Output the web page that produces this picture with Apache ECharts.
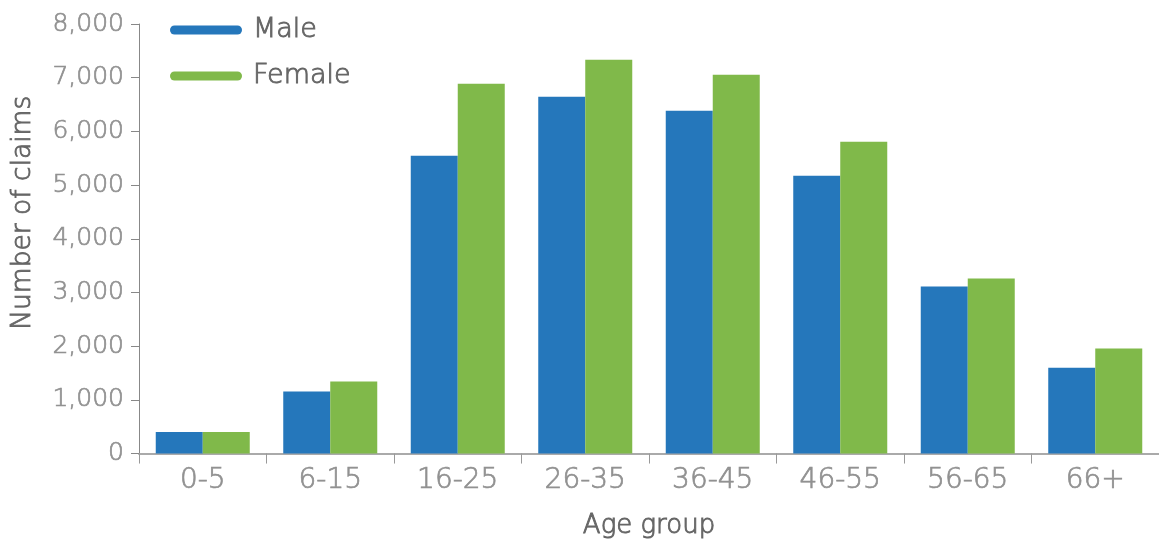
<!DOCTYPE html>
<html>
<head>
<meta charset="utf-8">
<script src="https://cdn.jsdelivr.net/npm/echarts@6/dist/echarts.min.js"></script>
<style>
html,body{margin:0;padding:0;background:#fff;}
#chart{width:1159px;height:545px;}
</style>
</head>
<body>
<div id="chart"></div>
<script>
const categories = ['0-5','6-15','16-25','26-35','36-45','46-55','56-65','66+'];
const male   = [400, 1155, 5545, 6645, 6385, 5175, 3110, 1600];
const female = [400, 1340, 6885, 7335, 7055, 5805, 3260, 1955];
const yTicks = [0, 1000, 2000, 3000, 4000, 5000, 6000, 7000, 8000];

const FONT = '"DejaVu Sans", Roboto, sans-serif';
const TICK = '#919191';
const NAME = '#666666';
const chart = echarts.init(document.getElementById('chart'), null, {renderer: 'canvas'});
chart.setOption({
  animation: false,
  textStyle: {fontFamily: FONT},
  grid: {left: 139, width: 1024, top: 24, bottom: 91, containLabel: false},
  legend: {
    orient: 'vertical',
    left: 170,
    top: 14,
    padding: 0,
    itemWidth: 72,
    itemHeight: 9,
    itemGap: 14,
    icon: 'path://M0,5 A5,5 0 0 1 5,0 H75 A5,5 0 0 1 75,10 H5 A5,5 0 0 1 0,5 Z',
    textStyle: {fontFamily: FONT, fontWeight: 200, fontSize: 27, color: NAME,
      textBorderColor: NAME, textBorderWidth: 0.9, lineHeight: 30, padding: [2,0,0,6]},
    data: ['Male', 'Female']
  },
  xAxis: {
    type: 'category',
    data: categories,
    name: 'Age group',
    nameLocation: 'middle',
    nameGap: 60,
    nameTextStyle: {fontFamily: FONT, fontWeight: 200, fontSize: 26, color: NAME,
      textBorderColor: NAME, textBorderWidth: 0.9},
    axisLine: {lineStyle: {color: '#aaa', width: 2}},
    axisTick: {show: true, length: 10, lineStyle: {color: '#999', width: 1}},
    axisLabel: {fontFamily: FONT, fontWeight: 200, fontSize: 28, color: TICK,
      textBorderColor: TICK, textBorderWidth: 0.7, margin: 13}
  },
  yAxis: {
    type: 'value',
    min: yTicks[0],
    max: yTicks[yTicks.length - 1],
    interval: 1000,
    name: 'Number of claims',
    nameLocation: 'middle',
    nameGap: 102,
    nameRotate: 90,
    nameTextStyle: {fontFamily: FONT, fontWeight: 200, fontSize: 26.5, color: NAME,
      textBorderColor: NAME, textBorderWidth: 0.9, padding: [0, 0, 0, 52]},
    axisLine: {show: true, lineStyle: {color: '#888', width: 1}},
    axisTick: {show: true, length: 8, lineStyle: {color: '#888'}},
    splitLine: {show: false},
    axisLabel: {
      fontFamily: FONT, fontWeight: 200, fontSize: 25, color: TICK,
      textBorderColor: TICK, textBorderWidth: 0.7, margin: 15,
      formatter: v => v.toLocaleString('en-US')
    }
  },
  series: [
    {name: 'Male', type: 'bar', data: male, barWidth: 47, barGap: '0%', itemStyle: {color: '#2577bb'}},
    {name: 'Female', type: 'bar', data: female, barWidth: 47, barGap: '0%', itemStyle: {color: '#80b94a'}}
  ]
});
</script>
</body>
</html>
